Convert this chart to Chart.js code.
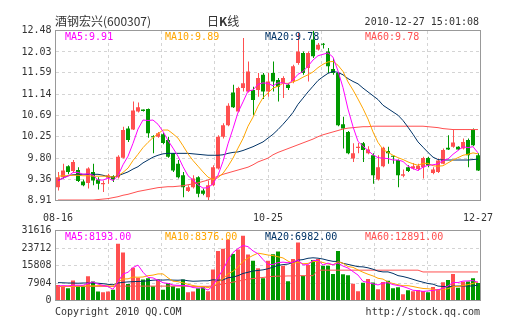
<!DOCTYPE html>
<html>
<head>
<meta charset="utf-8">
<script src="https://cdn.jsdelivr.net/npm/chart.js@4"></script>
<style>
  body { margin: 0; background: #fff; }
  #wrap { position: relative; width: 505px; height: 330px; font-family: 'DejaVu Sans Mono', monospace; font-size: 10px; color: #333; }
  canvas { position: absolute; left: 0; top: 0; }
  .t { position: absolute; white-space: nowrap; line-height: 12px; }
</style>
</head>
<body>
<div id="wrap">
  <canvas id="kChart" width="505" height="330"></canvas>
  <canvas id="volChart" width="505" height="330"></canvas>
  <div class="t" style="left:55px;top:15px;font-size:12px;font-family:'Noto Sans CJK SC'">酒钢宏兴(600307)</div>
  <div class="t" style="left:207px;top:15px;font-size:12px;font-family:'Noto Sans CJK SC'">日<b>K</b>线</div>
  <div class="t" style="right:26px;top:16px">2010-12-27 15:01:08</div>
  <div class="t" style="left:55px;top:306px">Copyright 2010 QQ.COM</div>
  <div class="t" style="right:25px;top:306px">http://stock.qq.com</div>
  <div id="maText"></div>
</div>
<script>
// daily k-line, 08-16 .. 12-27
const opens = [9.19,9.40,9.63,9.53,9.55,9.31,9.28,9.51,9.35,9.25,
  9.39,9.42,9.40,9.81,10.42,10.40,10.78,10.82,10.83,10.26,
  10.25,10.30,10.18,9.90,9.68,9.44,9.11,9.19,9.40,9.12,
  8.98,9.23,9.58,10.25,10.49,11.18,10.78,11.27,11.20,11.23,
  11.23,11.55,11.20,11.59,11.44,11.37,11.34,11.41,11.80,12.01,
  11.69,12.29,12.08,12.19,12.04,11.67,11.59,10.51,10.35,9.79,
  10.01,10.11,9.90,9.86,9.35,9.63,9.95,9.85,9.76,9.43,
  9.61,9.58,9.57,9.61,9.80,9.49,9.51,9.68,10.02,10.04,
  10.04,10.00,10.18,10.40,9.86]
const highs = [9.51,9.68,9.65,9.76,9.61,9.35,9.61,9.68,9.40,9.33,
  9.47,9.44,9.86,10.46,10.47,10.99,10.97,10.82,10.84,10.28,
  10.35,10.33,10.25,9.91,9.76,9.51,9.23,9.44,9.42,9.16,
  9.33,9.65,10.28,10.53,10.95,11.34,11.30,12.32,11.83,11.30,
  11.59,11.59,11.59,11.83,11.48,11.52,11.37,11.76,12.43,12.04,
  12.04,12.47,12.22,12.22,12.11,11.90,11.60,10.67,10.37,10.11,
  10.12,10.14,10.05,9.90,9.86,10.04,10.04,9.86,9.77,9.56,
  9.65,9.70,9.68,9.83,9.83,9.61,9.79,10.00,10.28,10.39,
  10.05,10.21,10.21,10.42,9.90]
const lows = [9.12,9.37,9.46,9.51,9.30,9.21,9.16,9.23,9.14,9.09,
  9.26,9.30,9.37,9.79,10.14,10.39,10.76,10.78,10.23,9.90,
  10.23,10.09,9.81,9.51,9.37,8.98,9.09,9.16,8.98,9.02,
  8.91,9.21,9.56,10.21,10.47,10.85,10.76,11.20,11.18,10.70,
  11.09,11.04,11.09,11.20,10.99,11.06,11.23,11.37,11.76,11.55,
  11.41,11.90,12.06,12.10,11.59,11.55,10.47,10.00,9.88,9.72,
  9.90,9.72,9.88,9.26,9.33,9.61,9.68,9.68,9.19,9.40,
  9.51,9.56,9.54,9.37,9.61,9.46,9.49,9.67,9.97,10.02,
  9.97,9.98,9.61,10.05,9.53]
const closes = [9.40,9.54,9.51,9.72,9.32,9.23,9.58,9.33,9.26,9.28,
  9.44,9.35,9.83,10.39,10.18,10.80,10.87,10.79,10.32,10.24,
  10.32,10.12,9.83,9.54,9.40,9.19,9.19,9.37,9.05,9.05,
  9.23,9.61,10.25,10.49,10.90,10.87,11.27,11.37,11.62,11.02,
  11.48,11.20,11.41,11.41,11.30,11.48,11.27,11.73,12.04,11.59,
  12.01,11.94,12.18,12.18,11.73,11.59,10.49,10.42,9.90,9.90,
  10.04,9.97,9.98,9.44,9.61,10.02,9.90,9.83,9.44,9.46,
  9.53,9.63,9.64,9.80,9.65,9.56,9.75,9.97,9.98,10.13,
  9.98,10.14,9.86,10.07,9.54]
const volumes = [7000,6400,5500,9000,6700,6700,11000,8600,4100,3700,
  4100,4800,25600,21700,7500,14800,10300,9500,10000,6400,
  9500,4800,7900,6400,5500,9500,3700,4100,5500,6000,
  4200,14000,22400,23400,27500,21000,23000,29300,20800,17900,
  14600,10000,17900,20900,22100,15700,8700,18800,26200,11200,
  16000,18300,18800,15700,15700,12000,22400,11900,11400,7600,
  4200,8000,9700,8100,5100,8300,8900,5500,6000,2800,
  4600,4200,4700,4300,3700,6100,5200,8200,9300,12000,
  5800,8500,8600,10000,7900]

// price moving averages
const ma5 = [9.32,9.38,9.42,9.50,9.50,9.46,9.47,9.44,9.34,9.34,
  9.38,9.33,9.43,9.66,9.84,10.11,10.41,10.60,10.59,10.60,
  10.51,10.36,10.17,10.01,9.84,9.62,9.43,9.34,9.24,9.17,
  9.18,9.26,9.44,9.73,10.10,10.42,10.76,10.98,11.21,11.23,
  11.35,11.38,11.37,11.32,11.38,11.38,11.35,11.44,11.56,11.62,
  11.73,11.86,11.95,11.98,12.01,11.92,11.63,11.28,10.83,10.46,
  10.15,10.05,9.96,9.87,9.81,9.80,9.79,9.76,9.76,9.73,
  9.63,9.58,9.54,9.61,9.65,9.66,9.68,9.75,9.78,9.88,
  9.96,10.04,10.02,10.04,9.91]
const ma10 = [9.42,9.43,9.43,9.44,9.44,9.43,9.43,9.42,9.42,9.42,
  9.42,9.40,9.43,9.50,9.59,9.75,9.88,10.02,10.13,10.23,
  10.31,10.39,10.39,10.31,10.22,10.06,9.89,9.75,9.63,9.51,
  9.40,9.35,9.39,9.48,9.63,9.80,10.01,10.21,10.47,10.66,
  10.89,11.07,11.17,11.27,11.31,11.37,11.37,11.40,11.44,11.50,
  11.55,11.61,11.70,11.77,11.82,11.83,11.75,11.62,11.40,11.23,
  11.04,10.84,10.62,10.35,10.13,9.98,9.92,9.86,9.81,9.77,
  9.72,9.68,9.65,9.69,9.69,9.64,9.63,9.64,9.70,9.76,
  9.81,9.86,9.88,9.91,9.89]
const ma20 = [9.33,9.38,9.43,9.45,9.46,9.46,9.46,9.46,9.46,9.44,
  9.41,9.40,9.43,9.47,9.51,9.57,9.62,9.70,9.76,9.82,
  9.86,9.89,9.90,9.90,9.90,9.90,9.90,9.89,9.88,9.87,
  9.86,9.86,9.86,9.87,9.90,9.92,9.93,9.96,10.00,10.04,
  10.09,10.14,10.22,10.30,10.40,10.51,10.63,10.76,10.93,11.06,
  11.19,11.31,11.43,11.51,11.58,11.62,11.60,11.55,11.47,11.41,
  11.36,11.27,11.19,11.11,11.03,10.91,10.84,10.77,10.70,10.59,
  10.45,10.30,10.14,10.03,9.92,9.82,9.77,9.76,9.76,9.76,
  9.76,9.76,9.76,9.77,9.78]
const ma60 = [8.92,8.92,8.92,8.92,8.92,8.92,8.92,8.92,8.93,8.94,
  8.95,8.97,8.99,9.02,9.04,9.07,9.10,9.12,9.14,9.16,
  9.18,9.19,9.20,9.20,9.21,9.22,9.24,9.26,9.28,9.31,
  9.34,9.38,9.42,9.46,9.49,9.52,9.55,9.58,9.61,9.66,
  9.72,9.76,9.80,9.87,9.92,9.96,10.00,10.04,10.08,10.12,
  10.16,10.20,10.25,10.29,10.32,10.35,10.38,10.41,10.43,10.44,
  10.45,10.46,10.46,10.47,10.47,10.47,10.47,10.47,10.47,10.47,
  10.47,10.47,10.47,10.47,10.46,10.45,10.44,10.42,10.41,10.40,
  10.40,10.40,10.40,10.40,10.40]

// volume moving averages
const vma5 = [6500,6700,6600,6900,6920,6860,7780,8400,7420,6820,
  6300,5060,8460,11980,12740,14880,15980,12760,10420,10200,
  9140,8040,7720,7000,6820,6820,6600,5840,5660,5760,
  4700,6760,10420,14000,18300,21660,23460,24840,24320,22400,
  21120,18520,16240,16260,17100,17320,17060,17240,18300,16120,
  16180,18100,18100,16000,16900,16100,16920,15540,14680,13060,
  11500,8620,8180,7520,7020,7840,8020,7180,6760,6300,
  5560,4620,4460,4120,4300,4600,4800,5500,6500,8160,
  8100,8760,8840,8980,8193]
const vma10 = [6300,6300,6400,6400,6500,6500,6600,6600,6700,6870,
  6580,6420,8430,9700,9780,10590,10520,10610,11200,11470,
  12010,12010,10240,8710,8510,7980,7320,6780,6330,6290,
  5760,6680,8130,9830,12030,13180,15110,17630,19160,20350,
  21390,20990,20540,20290,19750,19220,17790,16740,17280,16610,
  16750,17580,17670,17150,16510,16140,17510,16820,15340,14980,
  13800,12770,11860,11100,10040,9670,8320,7680,7140,6660,
  6700,6320,5820,5440,5300,5080,4710,4980,5310,6230,
  6350,6780,7170,7740,8376]
const vma20 = [8100,8000,7900,7900,7800,7900,7900,7900,7800,7600,
  7300,7100,7900,8200,8400,8500,8600,8700,8900,9170,
  9300,9220,9340,9200,9150,9290,8920,8700,8770,8880,
  8890,9350,9190,9270,10270,10580,11220,12210,12750,13320,
  13580,13840,14340,15060,15890,16200,16450,17190,18220,18480,
  19070,19290,19110,18720,18130,17680,17650,16780,16310,15800,
  15280,15180,14770,14130,13280,12910,12920,12250,11240,10820,
  10250,9550,8840,8270,7670,7380,6520,6330,6230,6450,
  6530,6550,6500,6590,6982]
const vma60 = [6400,6400,6400,6400,6400,6400,6400,6400,6400,6400,
  6400,6400,6500,6500,6500,6500,6500,6500,6500,6500,
  6500,6500,6500,6500,6500,6500,6400,6400,6400,6400,
  6400,6600,7000,7400,7900,8300,8700,9200,9600,9900,
  10200,10400,10700,10900,11000,11000,11100,11100,11200,11200,
  11200,11200,13700,13700,13700,13700,13700,13700,13700,13700,
  13700,13700,13700,13700,13700,13700,13700,13700,13700,13700,
  13700,13700,13700,12891,12891,12891,12891,12891,12891,12891,
  12891,12891,12891,12891,12891]

const priceTicks = [8.91, 9.36, 9.80, 10.25, 10.69, 11.14, 11.59, 12.03, 12.48]
const volTicks = [0, 7904, 15808, 23712, 31616]
const dateIdx = [0, 42, 84]
const dateLabels = ['08-16', '10-25', '12-27']

const maNames = ['MA5', 'MA10', 'MA20', 'MA60']
const maColors = ['#ff00ff', '#ffa500', '#003366', '#ff5050']
const priceMaText = ['9.91', '9.89', '9.78', '9.78']
const volMaText = ['8193.00', '8376.00', '6982.00', '12891.00']

const upColor = '#ff5050'
const downColor = '#009900'
const gridColor = '#d4d4d4'

Chart.defaults.font.family = "'DejaVu Sans Mono', monospace"
Chart.defaults.font.size = 10
Chart.defaults.color = '#333'

const idx = closes.map((_, i) => i)
const colors = closes.map((c, i) => c >= opens[i] ? upColor : downColor)
const pts = arr => idx.map(i => ({x: i, y: arr[i]}))

// MA captions inside both panels
const maText = document.getElementById('maText')
maNames.forEach((name, k) => {
  [[31, priceMaText[k]], [231, volMaText[k]]].forEach(([top, val]) => {
    const d = document.createElement('div')
    d.className = 't'
    d.style.left = (65 + k * 100) + 'px'
    d.style.top = top + 'px'
    d.style.color = maColors[k]
    d.textContent = name + ':' + val
    maText.appendChild(d)
  })
})

// grey frame around the plot area
const frame = {
  id: 'frame',
  afterDraw(chart) {
    const a = chart.chartArea
    const ctx = chart.ctx
    ctx.save()
    ctx.strokeStyle = '#999'
    ctx.lineWidth = 1
    ctx.strokeRect(a.left, a.top, a.right - a.left, a.bottom - a.top)
    ctx.restore()
  }
}

const maLines = list => list.map((arr, k) => ({
  type: 'line',
  xAxisID: 'x',
  data: pts(arr),
  borderColor: maColors[k],
  borderWidth: 1,
  pointRadius: 0,
  tension: 0,
  order: 0
}))

const colGrid = {
  type: 'linear',
  position: 'top',
  offset: false,
  min: 0,
  max: 8,
  afterBuildTicks: s => { s.ticks = [1, 2, 3, 4, 5, 6, 7].map(v => ({value: v})) },
  afterFit: s => { s.height = 0 },
  ticks: {display: false},
  grid: {color: gridColor, drawTicks: false, offset: false},
  border: {display: false, dash: [3, 3]}
}

const yAxis = (min, max, values, fmt) => ({
  min: min,
  max: max,
  afterBuildTicks: s => { s.ticks = values.map(v => ({value: v})) },
  afterFit: s => { s.width = 55.5 },
  ticks: {padding: 4, callback: fmt},
  grid: {color: gridColor, drawTicks: false},
  border: {display: false, dash: [3, 3]}
})

new Chart(document.getElementById('kChart'), {
  type: 'bar',
  data: {
    datasets: [
      ...maLines([ma5, ma10, ma20, ma60]),
      {
        xAxisID: 'x',
        data: idx.map(i => ({x: i, y: [opens[i], closes[i]]})),
        backgroundColor: colors,
        barThickness: 4,
        grouped: false,
        minBarLength: 1,
        inflateAmount: 0,
        order: 1
      },
      {
        xAxisID: 'xw',
        data: idx.map(i => ({x: i, y: [lows[i], highs[i]]})),
        backgroundColor: colors,
        barThickness: 1,
        grouped: false,
        inflateAmount: 0,
        order: 2
      }
    ]
  },
  options: {
    responsive: false,
    animation: false,
    events: [],
    layout: {padding: {left: 0, top: 30.5, right: 24.5, bottom: 99.5}},
    plugins: {legend: {display: false}, tooltip: {enabled: false}},
    scales: {
      x: {
        type: 'linear',
        offset: false,
        min: -0.5,
        max: 84.5,
        afterBuildTicks: s => { s.ticks = dateIdx.map(v => ({value: v})) },
        afterFit: s => { s.height = 30 },
        ticks: {
          padding: 4,
          maxRotation: 0,
          autoSkip: false,
          callback: v => dateLabels[dateIdx.indexOf(v)]
        },
        grid: {display: false, offset: false},
        border: {display: false}
      },
      // wicks sit one pixel column to the right of the body centre
      xw: {type: 'linear', display: false, offset: false, min: -0.6, max: 84.4},
      xg: colGrid,
      y: yAxis(8.91, 12.48, priceTicks, v => v.toFixed(2))
    }
  },
  plugins: [frame]
})

new Chart(document.getElementById('volChart'), {
  type: 'bar',
  data: {
    datasets: [
      ...maLines([vma5, vma10, vma20, vma60]),
      {
        xAxisID: 'x',
        data: idx.map(i => ({x: i, y: volumes[i]})),
        backgroundColor: colors,
        barThickness: 4,
        grouped: false,
        inflateAmount: 0,
        order: 1
      }
    ]
  },
  options: {
    responsive: false,
    animation: false,
    events: [],
    layout: {padding: {left: 0, top: 230.5, right: 24.5, bottom: 29.5}},
    plugins: {legend: {display: false}, tooltip: {enabled: false}},
    scales: {
      x: {type: 'linear', display: false, offset: false, min: -0.5, max: 84.5},
      xg: colGrid,
      y: yAxis(0, 31616, volTicks, v => String(v))
    }
  },
  plugins: [frame]
})
</script>
</body>
</html>
